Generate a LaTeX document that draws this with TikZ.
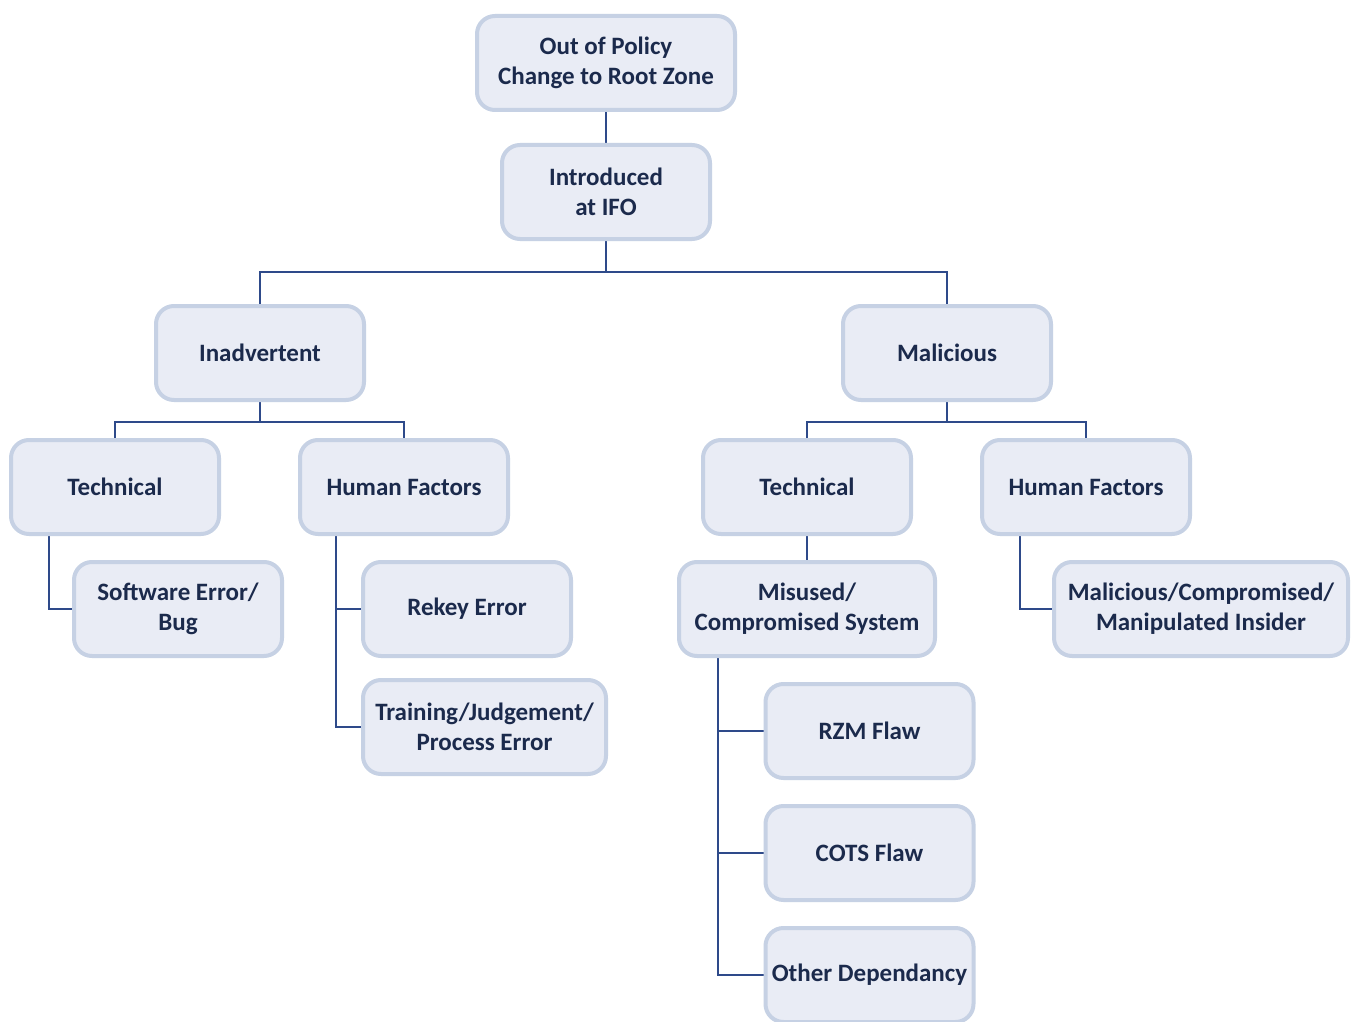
\documentclass[tikz,border=0pt]{standalone}
\usepackage{fontspec}
\setmainfont{Carlito}
\usetikzlibrary{backgrounds}
\definecolor{boxfill}{HTML}{E9ECF5}
\definecolor{boxline}{HTML}{C6D1E4}
\definecolor{txt}{HTML}{1B2A4C}
\definecolor{conn}{HTML}{2E4A8A}
\tikzset{
  box/.style={draw=boxline, fill=boxfill, line width=4pt, rounded corners=18pt,
    minimum width=208pt, minimum height=94pt, inner sep=0pt, align=center,
    text=txt, font=\fontsize{25}{30}\selectfont\bfseries},
  link/.style={draw=conn, line width=2pt}
}
\begin{document}
\begin{tikzpicture}[x=1pt,y=-1pt]
\useasboundingbox (0,0) rectangle (1353,1022);

\node[box, minimum width=258pt] (root) at (606,63) {Out of Policy\\Change to Root Zone};
\node[box] (ifo) at (606,192) {Introduced\\at IFO};
\node[box] (inad) at (260,353) {Inadvertent};
\node[box] (mal) at (947,353) {Malicious};
\node[box] (techL) at (115,487) {Technical};
\node[box] (humL) at (404,487) {Human Factors};
\node[box] (techR) at (807,487) {Technical};
\node[box] (humR) at (1086,487) {Human Factors};
\node[box] (soft) at (178,609) {Software Error/\\Bug};
\node[box] (rekey) at (467,609) {Rekey Error};
\node[box, minimum width=243pt] (train) at (484.5,727) {Training/Judgement/\\Process Error};
\node[box, minimum width=256pt] (misu) at (807,609) {Misused/\\Compromised System};
\node[box, minimum width=294pt] (insider) at (1201,609) {Malicious/Compromised/\\Manipulated Insider};
\node[box] (rzm) at (869.5,731) {RZM Flaw};
\node[box] (cots) at (869.5,853) {COTS Flaw};
\node[box] (other) at (869.5,975) {Other Dependancy};

\begin{pgfonlayer}{background}
\fill[white] (0,0) rectangle (1353,1022);
\draw[link] (root.south) -- (ifo.north);
\draw[link] (ifo.south) -- ++(0,31) coordinate (j1);
\draw[link] (inad.north) |- (j1) -| (mal.north);
\draw[link] (inad.south) -- ++(0,20) coordinate (j2);
\draw[link] (techL.north) |- (j2) -| (humL.north);
\draw[link] (mal.south) -- ++(0,20) coordinate (j3);
\draw[link] (techR.north) |- (j3) -| (humR.north);
\draw[link] (techR.south) -- (misu.north);
\draw[link] (techL.south -| 49,0) |- (soft.west);
\draw[link] (humL.south -| 336,0) |- (train.west);
\draw[link] (humL.south -| 336,0) |- (rekey.west);
\draw[link] (humR.south -| 1020,0) |- (insider.west);
\draw[link] (misu.south -| 718,0) |- (other.west);
\draw[link] (misu.south -| 718,0) |- (cots.west);
\draw[link] (misu.south -| 718,0) |- (rzm.west);
\end{pgfonlayer}
\end{tikzpicture}
\end{document}
